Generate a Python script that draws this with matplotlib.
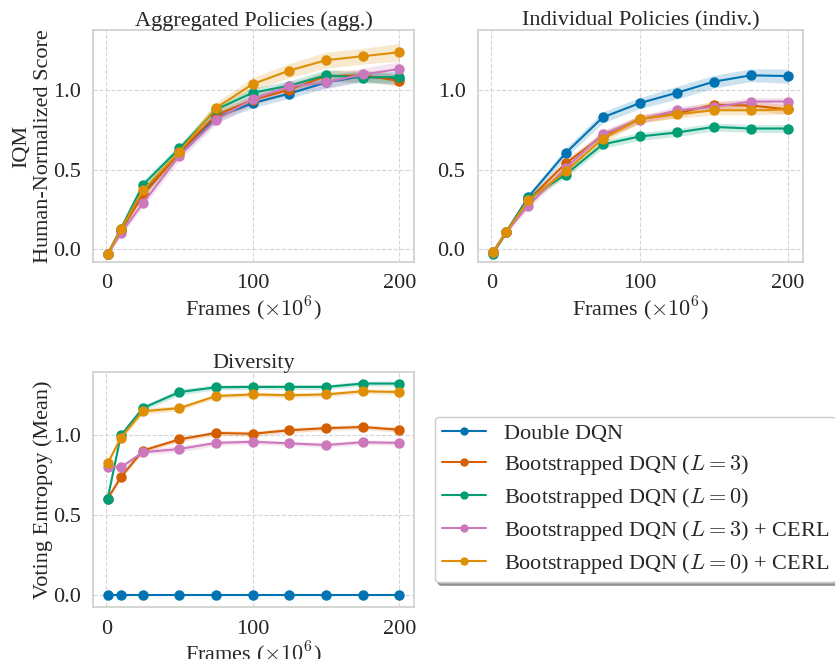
import numpy as np
import matplotlib
matplotlib.use("Agg")
import matplotlib.pyplot as plt
import seaborn as sns

sns.set_theme(style="whitegrid")
plt.rcParams['font.family'] = ['Liberation Serif', 'DejaVu Serif']
plt.rcParams['mathtext.fontset'] = 'cm'
plt.rcParams['grid.linestyle'] = '--'
plt.rcParams['axes.edgecolor'] = '#d0d0d0'

# frames (x 10^6)
frames = [1, 10, 25, 50, 75, 100, 125, 150, 175, 200]

labels = ["Double DQN",
          r"Bootstrapped DQN ($L=3$)",
          r"Bootstrapped DQN ($L=0$)",
          r"Bootstrapped DQN ($L=3$) + CERL",
          r"Bootstrapped DQN ($L=0$) + CERL"]
colors = ["#0173b2", "#d55e00", "#029e73", "#cc78bc", "#de8f05"]

# aggregated policies (IQM)
agg_ddqn = [-0.03, 0.12, 0.35, 0.61, 0.83, 0.92, 0.98, 1.05, 1.09, 1.07]
agg_l3 = [-0.03, 0.12, 0.34, 0.61, 0.845, 0.94, 1.005, 1.09, 1.095, 1.06]
agg_l0 = [-0.03, 0.13, 0.405, 0.635, 0.88, 0.985, 1.03, 1.095, 1.08, 1.085]
agg_l3_cerl = [-0.03, 0.10, 0.29, 0.59, 0.815, 0.945, 1.025, 1.05, 1.10, 1.135]
agg_l0_cerl = [-0.03, 0.125, 0.37, 0.615, 0.89, 1.04, 1.125, 1.19, 1.215, 1.24]
agg_err = [
    [0.01, 0.015, 0.02, 0.025, 0.03, 0.03, 0.03, 0.035, 0.035, 0.035],
    [0.01, 0.015, 0.02, 0.025, 0.03, 0.03, 0.03, 0.035, 0.035, 0.035],
    [0.01, 0.015, 0.025, 0.025, 0.03, 0.03, 0.03, 0.035, 0.035, 0.035],
    [0.01, 0.015, 0.025, 0.03, 0.03, 0.035, 0.035, 0.04, 0.04, 0.045],
    [0.01, 0.015, 0.025, 0.03, 0.035, 0.04, 0.045, 0.05, 0.05, 0.055],
]

# individual policies (IQM)
ind_ddqn = [-0.02, 0.11, 0.33, 0.605, 0.83, 0.92, 0.985, 1.055, 1.095, 1.09]
ind_l3 = [-0.02, 0.11, 0.31, 0.54, 0.715, 0.82, 0.855, 0.91, 0.905, 0.88]
ind_l0 = [-0.03, 0.11, 0.32, 0.47, 0.66, 0.71, 0.735, 0.77, 0.76, 0.76]
ind_l3_cerl = [-0.02, 0.11, 0.275, 0.51, 0.725, 0.815, 0.875, 0.895, 0.93, 0.93]
ind_l0_cerl = [-0.02, 0.11, 0.31, 0.49, 0.695, 0.82, 0.85, 0.875, 0.875, 0.88]
ind_err = [
    [0.01, 0.015, 0.02, 0.03, 0.035, 0.035, 0.04, 0.04, 0.04, 0.045],
    [0.01, 0.015, 0.02, 0.025, 0.025, 0.025, 0.025, 0.025, 0.03, 0.03],
    [0.01, 0.015, 0.02, 0.02, 0.025, 0.025, 0.025, 0.025, 0.025, 0.025],
    [0.01, 0.015, 0.02, 0.025, 0.025, 0.025, 0.025, 0.025, 0.025, 0.025],
    [0.01, 0.015, 0.02, 0.025, 0.025, 0.025, 0.025, 0.03, 0.03, 0.03],
]

# diversity (voting entropy)
div_ddqn = [0.0, 0.0, 0.0, 0.0, 0.0, 0.0, 0.0, 0.0, 0.0, 0.0]
div_l3 = [0.60, 0.735, 0.90, 0.97, 1.01, 1.005, 1.027, 1.04, 1.047, 1.03]
div_l0 = [0.60, 0.995, 1.165, 1.265, 1.295, 1.297, 1.297, 1.297, 1.318, 1.318]
div_l3_cerl = [0.80, 0.795, 0.89, 0.91, 0.948, 0.955, 0.945, 0.935, 0.952, 0.948]
div_l0_cerl = [0.82, 0.98, 1.145, 1.165, 1.24, 1.25, 1.245, 1.25, 1.27, 1.265]
div_err = [
    [0.0] * 10,
    [0.01, 0.015, 0.015, 0.015, 0.015, 0.015, 0.015, 0.015, 0.015, 0.015],
    [0.01, 0.015, 0.015, 0.02, 0.015, 0.015, 0.015, 0.015, 0.015, 0.015],
    [0.01, 0.015, 0.015, 0.02, 0.015, 0.015, 0.015, 0.015, 0.015, 0.015],
    [0.01, 0.015, 0.02, 0.015, 0.015, 0.015, 0.015, 0.015, 0.015, 0.015],
]

panels = [
    ("Aggregated Policies (agg.)", [agg_ddqn, agg_l3, agg_l0, agg_l3_cerl, agg_l0_cerl], agg_err),
    ("Individual Policies (indiv.)", [ind_ddqn, ind_l3, ind_l0, ind_l3_cerl, ind_l0_cerl], ind_err),
    ("Diversity", [div_ddqn, div_l3, div_l0, div_l3_cerl, div_l0_cerl], div_err),
]

fig = plt.figure(figsize=(8.35, 6.59), dpi=100)
boxes = [
    [93 / 835, 1 - 262 / 659, 321 / 835, 232 / 659],
    [478 / 835, 1 - 262 / 659, 325 / 835, 232 / 659],
    [93 / 835, 1 - 607 / 659, 321 / 835, 235 / 659],
]

fs = 16
for k, (title, series, errs) in enumerate(panels):
    ax = fig.add_axes(boxes[k])
    x = np.array(frames)
    for i in range(5):
        y = np.array(series[i])
        e = np.array(errs[i])
        ax.fill_between(x, y - e, y + e, color=colors[i], alpha=0.2, linewidth=0)
        ax.plot(x, y, '-o', color=colors[i], markersize=6.5, linewidth=1.5, label=labels[i])
    ax.set_title(title, fontsize=fs, pad=3)
    ax.set_xlabel(r"Frames ($\times10^6$)", fontsize=fs, labelpad=1)
    ax.set_xticks([0, 100, 200])
    ax.set_yticks([0.0, 0.5, 1.0])
    ax.set_xlim(-9, 210)
    if k < 2:
        ax.set_ylim(-0.08, 1.38)
    else:
        ax.set_ylim(-0.075, 1.39)
    ax.tick_params(labelsize=fs, pad=3)
    ax.grid(True, linestyle='--', color='#d5d5d5', linewidth=0.8)
    for s in ax.spines.values():
        s.set_color('#d0d0d0')
    if k == 0:
        ax.set_ylabel("IQM\nHuman-Normalized Score", fontsize=fs, labelpad=0)
    if k == 2:
        ax.set_ylabel("Voting Entropoy (Mean)", fontsize=fs, labelpad=0)

leg_handles = [plt.Line2D([], [], color=c, marker='o', markersize=5, linewidth=1.5) for c in colors]
fig.legend(leg_handles, labels, loc='upper left', bbox_to_anchor=(435 / 835, 1 - 417 / 659),
           borderaxespad=0, fontsize=fs, frameon=True, shadow=True, fancybox=True,
           handlelength=2, borderpad=0.3, labelspacing=0.4, handletextpad=0.8)

fig.savefig("out.png", dpi=100)
